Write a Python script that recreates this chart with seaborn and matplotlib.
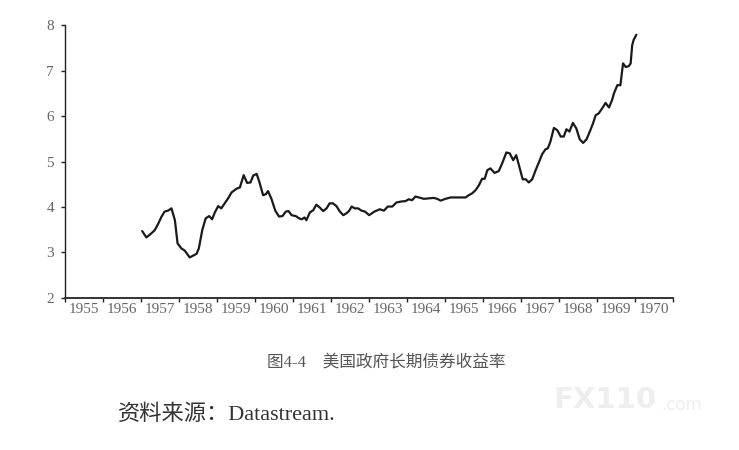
import pandas as pd
import matplotlib
matplotlib.use("Agg")
import matplotlib.pyplot as plt
import seaborn as sns

# --- dane ---
years = [
    1957.03, 1957.14, 1957.27, 1957.36, 1957.45, 1957.54, 1957.62, 1957.71, 1957.80,
    1957.89, 1957.96, 1958.06, 1958.15, 1958.28, 1958.37, 1958.46, 1958.52, 1958.61,
    1958.70, 1958.79, 1958.87, 1958.94, 1959.03, 1959.11, 1959.20, 1959.29, 1959.38,
    1959.46, 1959.53, 1959.60, 1959.70, 1959.79, 1959.88, 1959.95, 1960.04, 1960.11,
    1960.21, 1960.28, 1960.34, 1960.43, 1960.53, 1960.63, 1960.72, 1960.81, 1960.88,
    1960.96, 1961.07, 1961.16, 1961.23, 1961.30, 1961.35, 1961.44, 1961.53, 1961.61,
    1961.70, 1961.79, 1961.88, 1961.96, 1962.05, 1962.14, 1962.23, 1962.32, 1962.40,
    1962.47, 1962.54, 1962.62, 1962.71, 1962.80, 1962.89, 1963.00, 1963.14, 1963.28,
    1963.39, 1963.49, 1963.61, 1963.72, 1963.84, 1963.96, 1964.04, 1964.13, 1964.22,
    1964.31, 1964.44, 1964.57, 1964.70, 1964.79, 1964.88, 1965.01, 1965.14, 1965.27,
    1965.40, 1965.54, 1965.62, 1965.71, 1965.80, 1965.89, 1965.97, 1966.04, 1966.11,
    1966.19, 1966.30, 1966.41, 1966.50, 1966.61, 1966.70, 1966.79, 1966.87, 1966.94,
    1967.04, 1967.12, 1967.20, 1967.29, 1967.38, 1967.46, 1967.55, 1967.64, 1967.70,
    1967.77, 1967.86, 1967.95, 1968.04, 1968.12, 1968.19, 1968.27, 1968.36, 1968.45,
    1968.54, 1968.63, 1968.72, 1968.82, 1968.89, 1968.96, 1969.04, 1969.13, 1969.22,
    1969.31, 1969.39, 1969.44, 1969.53, 1969.61, 1969.68, 1969.75, 1969.83, 1969.88,
    1969.92, 1969.96, 1970.03,
]
yields = [
    3.47, 3.33, 3.42, 3.49, 3.63, 3.79, 3.90, 3.92, 3.97,
    3.71, 3.20, 3.09, 3.04, 2.89, 2.93, 2.97, 3.09, 3.49,
    3.75, 3.80, 3.73, 3.88, 4.02, 3.97, 4.08, 4.19, 4.32,
    4.37, 4.41, 4.43, 4.70, 4.53, 4.54, 4.69, 4.73, 4.56,
    4.26, 4.28, 4.35, 4.18, 3.92, 3.79, 3.80, 3.90, 3.91,
    3.82, 3.80, 3.75, 3.73, 3.77, 3.71, 3.88, 3.93, 4.05,
    3.99, 3.91, 3.97, 4.08, 4.08, 4.02, 3.90, 3.82, 3.86,
    3.91, 4.01, 3.97, 3.97, 3.92, 3.90, 3.82, 3.90, 3.95,
    3.92, 4.01, 4.01, 4.10, 4.12, 4.13, 4.17, 4.15, 4.23,
    4.21, 4.18, 4.19, 4.20, 4.18, 4.14, 4.18, 4.21, 4.21,
    4.21, 4.21, 4.26, 4.30, 4.37, 4.48, 4.62, 4.62, 4.81,
    4.85, 4.75, 4.79, 4.96, 5.20, 5.18, 5.03, 5.14, 4.92,
    4.61, 4.61, 4.54, 4.61, 4.81, 4.97, 5.16, 5.27, 5.29,
    5.44, 5.74, 5.69, 5.55, 5.55, 5.71, 5.66, 5.85, 5.73,
    5.49, 5.41, 5.49, 5.69, 5.84, 6.02, 6.06, 6.17, 6.29,
    6.19, 6.35, 6.50, 6.68, 6.68, 7.16, 7.08, 7.10, 7.16,
    7.56, 7.68, 7.79,
]
year_labels = [str(y) for y in range(1955, 1971)]
y_ticks = [2, 3, 4, 5, 6, 7, 8]

title_text = "图4-4　美国政府长期债券收益率"
source_text = "资料来源：Datastream."

df = pd.DataFrame({"year": years, "yield": yields})

sns.set_theme(style="white")
plt.rcParams['font.family'] = ['Liberation Serif', 'Noto Sans CJK SC', 'DejaVu Sans']

fig = plt.figure(figsize=(7.39, 4.50), dpi=100)
ax = fig.add_axes([0.088, 0.338, 0.823, 0.606])

sns.lineplot(data=df, x="year", y="yield", ax=ax, color="#1a1a1a", linewidth=1.6)

ax.set_xlim(1955, 1971)
ax.set_ylim(2, 8)

# lata: kreski na granicach, podpisy w srodku roku
ax.set_xticks(range(1955, 1972))
ax.set_xticklabels([])
ax.set_xticks([y + 0.5 for y in range(1955, 1971)], minor=True)
ax.set_xticklabels(year_labels, minor=True)
ax.tick_params(axis="x", which="major", direction="out", length=3, width=1, color="#222222", bottom=True)
ax.tick_params(axis="x", which="minor", length=0, pad=4, labelsize=11, labelcolor="#666666")

ax.set_yticks(y_ticks)
ax.tick_params(axis="y", direction="out", length=3, width=1, color="#222222", left=True,
               pad=5, labelsize=11, labelcolor="#666666")

ax.set_xlabel("")
ax.set_ylabel("")
for side in ["top", "right"]:
    ax.spines[side].set_visible(False)
ax.spines["left"].set_color("#222222")
ax.spines["left"].set_linewidth(1.0)
ax.spines["bottom"].set_color("#333333")
ax.spines["bottom"].set_linewidth(1.4)

fig.text(0.523, 0.195, title_text, ha="center", va="center", fontsize=12,
         color="#555555", family=['Liberation Serif', 'Noto Sans CJK SC'])
fig.text(0.16, 0.078, source_text, ha="left", va="center", fontsize=16,
         color="#333333", family=['Liberation Serif', 'Noto Sans CJK SC'])

# znak wodny
fig.text(0.819, 0.111, "FX110", ha="center", va="center", fontsize=21, fontweight="bold",
         color="#eeeeee", family="DejaVu Sans")
fig.text(0.895, 0.100, ".com", ha="left", va="center", fontsize=12,
         color="#eeeeee", family="DejaVu Sans")

fig.savefig("out.png", dpi=100, facecolor="white")
